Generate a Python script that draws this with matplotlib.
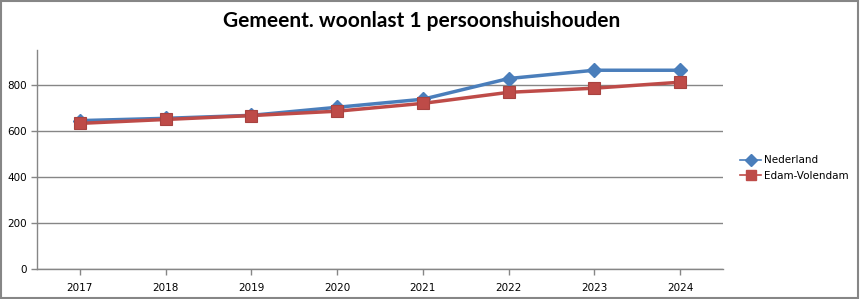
import matplotlib.pyplot as plt
from matplotlib.lines import Line2D

# Woonlasten per jaar
years = ["2017", "2018", "2019", "2020", "2021", "2022", "2023", "2024"]
nederland = [645, 655, 668, 703, 738, 828, 864, 864]
edam_volendam = [633, 650, 667, 686, 720, 768, 786, 812]

blue = "#4A7EBB"
red = "#BE4B48"
grey = "#868686"

fig = plt.figure(figsize=(8.6, 2.99), dpi=100)
ax = fig.add_axes([37 / 860, 30 / 299, 686 / 860, 219 / 299])

x = range(len(years))
ax.plot(x, nederland, color=blue, lw=2.5, marker="D", ms=7,
        mfc=blue, mec=blue, label="Nederland", zorder=3)
ax.plot(x, edam_volendam, color=red, lw=2.5, marker="s", ms=8.5,
        mfc=red, mec="#A84340", mew=0.8, label="Edam-Volendam", zorder=4)

ax.set_xlim(-0.5, len(years) - 0.5)
ax.set_ylim(0, 952)
ax.set_yticks([0, 200, 400, 600, 800])
ax.set_xticks(list(x))
ax.set_xticklabels(years)
ax.yaxis.grid(True, color=grey, lw=1)
ax.set_axisbelow(True)

for s in ["top", "right"]:
    ax.spines[s].set_visible(False)
for s in ["left", "bottom"]:
    ax.spines[s].set_color(grey)
    ax.spines[s].set_linewidth(1)
ax.tick_params(axis="both", colors=grey, labelcolor="black", labelsize=7.5,
               length=4, width=1, direction="out")
ax.tick_params(axis="x", pad=6)

fig.text(0.49, 0.93, "Gemeent. woonlast 1 persoonshuishouden",
         ha="center", va="center", fontsize=15, fontweight="bold",
         family="Lato")

handles = [
    Line2D([], [], color=blue, lw=1.2, marker="D", ms=6.5, mfc=blue, mec=blue),
    Line2D([], [], color=red, lw=1.2, marker="s", ms=7, mfc=red, mec=red),
]
fig.legend(handles, ["Nederland", "Edam-Volendam"], loc="center left",
           bbox_to_anchor=(738 / 860, 1 - 168 / 299), frameon=False,
           fontsize=7.5, handlelength=2.0, handletextpad=0.3, labelspacing=0.5,
           borderaxespad=0, borderpad=0.2)

# rand om de figuur
fig.patches.append(plt.Rectangle((0.001, 0.002), 0.997, 0.995,
                                 transform=fig.transFigure, fill=False,
                                 edgecolor=grey, lw=1.5))

fig.savefig("out.png", dpi=100)
